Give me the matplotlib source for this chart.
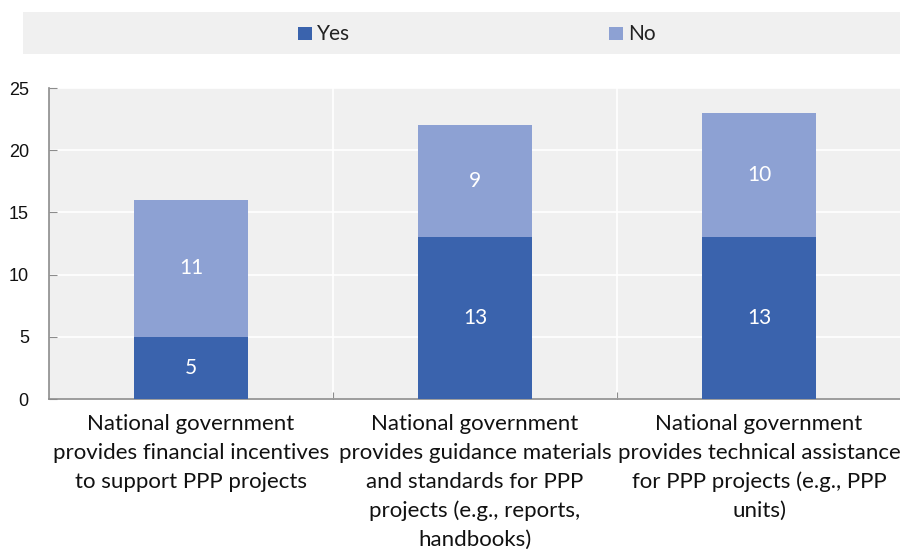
import matplotlib
matplotlib.use("Agg")
import matplotlib.pyplot as plt
from matplotlib.patches import Rectangle
import numpy as np

categories = [
    "National government\nprovides financial incentives\nto support PPP projects",
    "National government\nprovides guidance materials\nand standards for PPP\nprojects (e.g., reports,\nhandbooks)",
    "National government\nprovides technical assistance\nfor PPP projects (e.g., PPP\nunits)",
]
yes_values = [5, 13, 13]
no_values = [11, 9, 10]
series_names = ["Yes", "No"]
y_ticks = [0, 5, 10, 15, 20, 25]

dark = "#3a63ad"
light = "#8da1d3"
panel = "#f0f0f0"
spine = "#8c8c8c"
label_font = ["Lato", "DejaVu Sans"]
tick_font = ["Liberation Sans", "DejaVu Sans"]

fig = plt.figure(figsize=(9.0, 5.51), dpi=100)
W, H = 900, 551

# legend strip across the top
fig.patches.append(Rectangle((23 / W, 1 - 54 / H), (900 - 23) / W, 42 / H,
                             transform=fig.transFigure, facecolor=panel,
                             edgecolor="none", zorder=0))
for name, col, x0 in [(series_names[0], dark, 298), (series_names[1], light, 609)]:
    fig.patches.append(Rectangle((x0 / W, 1 - 40 / H), 14 / W, 13 / H,
                                 transform=fig.transFigure, facecolor=col,
                                 edgecolor="none", zorder=1))
    fig.text((x0 + 19) / W, 1 - 33.5 / H, name, fontsize=15, family=label_font,
             va="center", ha="left", color="#222222")

ax = fig.add_axes([49 / W, (551 - 399) / H, (901 - 49) / W, (399 - 88) / H])
ax.set_facecolor(panel)

x = np.arange(len(categories))
width = 0.4
ax.bar(x, yes_values, width, color=dark, zorder=3)
ax.bar(x, no_values, width, bottom=yes_values, color=light, zorder=3)

for xi, yv, nv in zip(x, yes_values, no_values):
    ax.text(xi, yv / 2, f"{yv}", ha="center", va="center", color="white",
            fontsize=15, family=label_font, zorder=4)
    ax.text(xi, yv + nv / 2, f"{nv}", ha="center", va="center", color="white",
            fontsize=15, family=label_font, zorder=4)

ax.set_xlim(-0.5, 2.5)
ax.set_ylim(0, 25)
ax.set_yticks(y_ticks)
ax.set_yticklabels([str(t) for t in y_ticks], family=tick_font, fontsize=13)
ax.yaxis.grid(True, color="white", linewidth=1.2, zorder=1)

# category boundaries carry the x ticks and the vertical grid lines
ax.set_xticks([0.5, 1.5])
ax.set_xticklabels([])
for b in [0.5, 1.5]:
    ax.axvline(b, color="white", linewidth=1.2, zorder=1)
for xi, lab in zip(x, categories):
    ax.text(xi, -1.2, lab, ha="center", va="top", fontsize=16,
            family=label_font, color="#111111", linespacing=1.55,
            transform=ax.transData, clip_on=False)

ax.tick_params(axis="x", direction="in", length=5, color=spine)
ax.tick_params(axis="y", direction="in", length=6, color=spine, pad=14.5,
               labelcolor="#111111")
for s in ["top", "right"]:
    ax.spines[s].set_visible(False)
for s in ["left", "bottom"]:
    ax.spines[s].set_color(spine)
    ax.spines[s].set_linewidth(1.2)

fig.savefig("out.png", dpi=100)
